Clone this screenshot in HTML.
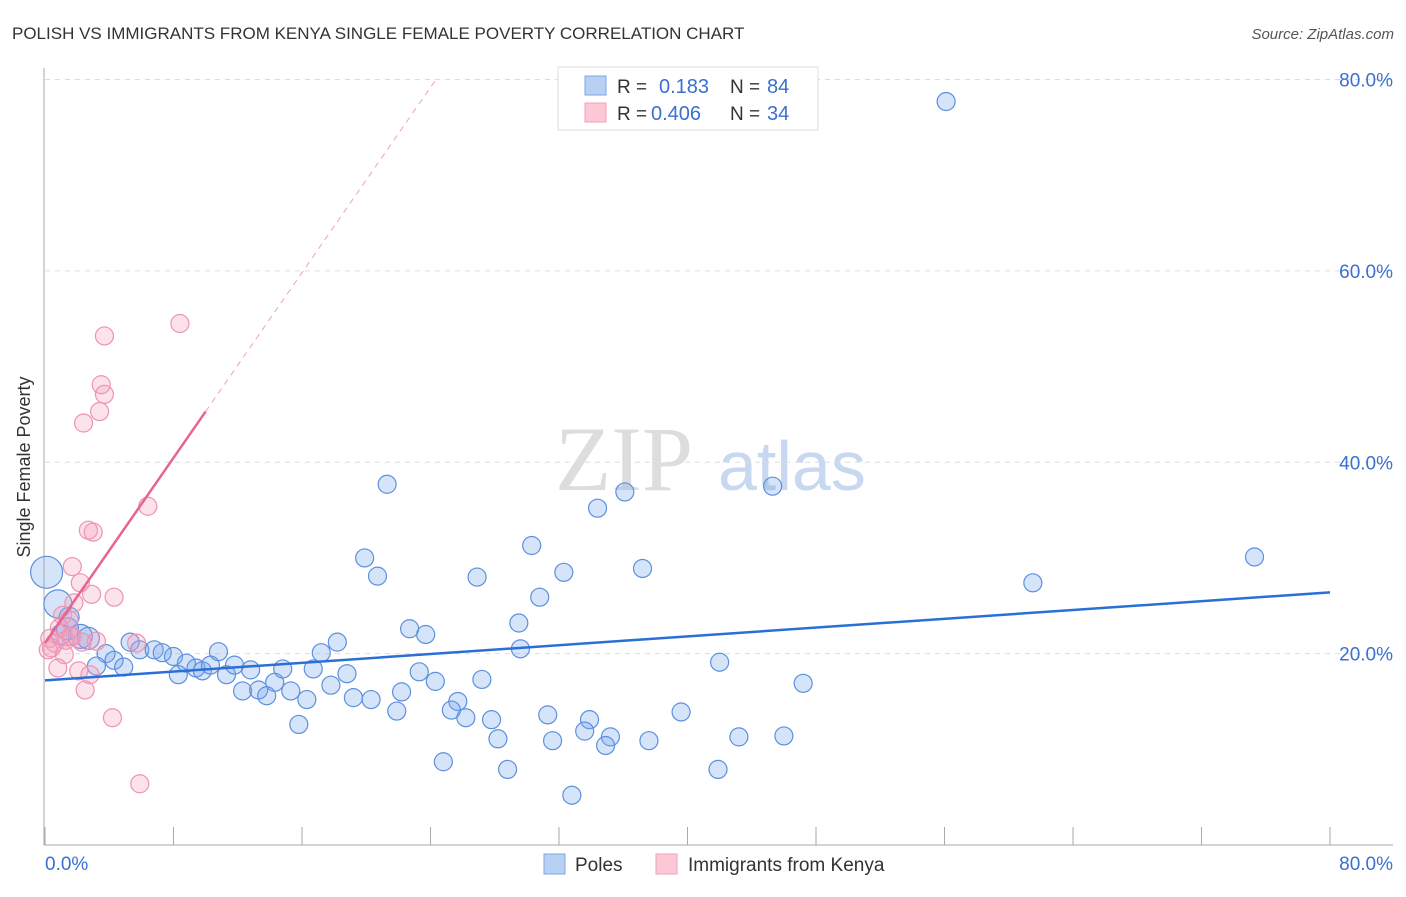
<!DOCTYPE html>
<html><head><meta charset="utf-8"><style>
body{margin:0;background:#fff;font-family:"Liberation Sans",sans-serif;}
</style></head><body>
<svg width="1406" height="892" xmlns="http://www.w3.org/2000/svg">
<text x="12" y="39" font-size="17" fill="#333">POLISH VS IMMIGRANTS FROM KENYA SINGLE FEMALE POVERTY CORRELATION CHART</text>
<text x="1394" y="39" font-size="15" fill="#555" font-style="italic" text-anchor="end">Source: ZipAtlas.com</text>
<g><text x="555" y="490" font-size="92" font-family="Liberation Serif,serif" fill="#ddd">ZIP</text><text x="718" y="490" font-size="70" fill="#c8d8f0">atlas</text></g>
<g id="grid"></g>
<g id="axes"></g>
<g id="marks"></g>
<g id="trend"></g>
<text x="18" y="455" font-size="18" fill="#333" transform="rotate(-90 30 455)" text-anchor="middle">Single Female Poverty</text>
<g>
<rect x="558" y="67" width="260" height="63" fill="#fff" stroke="#ddd"/>
<rect x="585" y="76" width="21" height="19" fill="#b8d0f3" stroke="#7ea6e4"/>
<rect x="585" y="103" width="21" height="19" fill="#fcc8d6" stroke="#f0a0b8"/>
<text x="617" y="93" font-size="19" fill="#333">R = </text><text x="659" y="93" font-size="20" fill="#3a70d0">0.183</text>
<text x="730" y="93" font-size="19" fill="#333">N = </text><text x="767" y="93" font-size="20" fill="#3a70d0">84</text>
<text x="617" y="120" font-size="19" fill="#333">R = </text><text x="651" y="120" font-size="20" fill="#3a70d0">0.406</text>
<text x="730" y="120" font-size="19" fill="#333">N = </text><text x="767" y="120" font-size="20" fill="#3a70d0">34</text>
</g>
<g>
<rect x="544" y="854" width="21" height="20" fill="#b8d0f3" stroke="#7ea6e4"/>
<text x="575" y="871" font-size="19" fill="#333">Poles</text>
<rect x="656" y="854" width="21" height="20" fill="#fcc8d6" stroke="#f0a0b8"/>
<text x="688" y="871" font-size="19" fill="#333">Immigrants from Kenya</text>
</g>
</svg>
<script>
const yTicks=[20,40,60,80];
const yTickLabels=["20.0%","40.0%","60.0%","80.0%"];
const xLabels=["0.0%","80.0%"];
const polesX=[56.1,21.3,36.1,45.3,34.4,30.3,19.9,75.3,20.7,26.9,32.3,37.2,61.5,30.8,29.5,22.7,23.7,29.6,18.2,17.2,42.0,5.3,5.9,6.8,7.3,8.0,10.8,3.8,3.2,4.3,4.9,8.8,9.4,9.8,10.3,8.3,11.3,11.8,12.8,14.8,16.7,18.8,23.3,24.3,27.2,47.2,14.3,17.8,12.3,13.3,13.8,15.3,16.3,19.2,20.3,22.2,21.9,25.7,25.3,26.2,31.3,39.6,15.8,27.8,33.9,33.6,28.2,31.6,35.2,34.9,37.6,43.2,46.0,24.8,28.8,41.9,32.8,0.1,0.8,2.2,1.4,1.5,2.7,1.0];
const polesY=[77.7,37.7,36.9,37.5,35.2,31.3,30.0,30.1,28.1,28.0,28.5,28.9,27.4,25.9,23.2,22.6,22.0,20.5,21.2,20.1,19.1,21.2,20.4,20.4,20.1,19.7,20.2,20.0,18.7,19.3,18.6,19.0,18.5,18.2,18.8,17.8,17.8,18.8,18.3,18.4,18.4,17.9,18.1,17.1,17.3,16.9,17.0,16.7,16.1,16.2,15.6,16.1,15.2,15.4,15.2,16.0,14.0,15.0,14.1,13.3,13.6,13.9,12.6,13.1,13.1,11.9,11.1,10.9,11.3,10.4,10.9,11.3,11.4,8.7,7.9,7.9,5.2,28.5,25.2,21.8,22.6,23.8,21.6,22.0];
const polesR=[9,9,9,9,9,9,9,9,9,9,9,9,9,9,9,9,9,9,9,9,9,9,9,9,9,9,9,9,9,9,9,9,9,9,9,9,9,9,9,9,9,9,9,9,9,9,9,9,9,9,9,9,9,9,9,9,9,9,9,9,9,9,9,9,9,9,9,9,9,9,9,9,9,9,9,9,9,16,14,12,11,10,11,10];
const kenyaX=[8.4,3.7,3.5,3.7,3.4,2.4,6.4,2.7,3.0,1.7,2.2,2.9,4.3,1.8,1.1,1.5,0.9,0.3,0.6,1.3,1.7,3.2,5.7,0.4,1.2,0.8,2.1,2.8,2.5,4.2,5.9,0.2,1.6,2.3];
const kenyaY=[54.5,53.2,48.1,47.1,45.3,44.1,35.4,32.9,32.7,29.1,27.4,26.2,25.9,25.3,24.0,23.5,22.7,21.6,21.1,21.4,21.8,21.3,21.1,20.6,19.9,18.5,18.2,17.8,16.2,13.3,6.4,20.4,21.8,21.2];
const polesTrend=[17.2,26.4];
const kenyaTrend=[21.1,2.42];
const X0=45,X1=1330,Y0=845;
const sx=v=>X0+v*(X1-X0)/80;
const sy=v=>Y0-v*(845-79.5)/80;
const NS="http://www.w3.org/2000/svg";
function mk(tag,attrs,parent){const e=document.createElementNS(NS,tag);for(const k in attrs)e.setAttribute(k,attrs[k]);document.getElementById(parent).appendChild(e);return e;}
yTicks.forEach((t,i)=>{
 const g=mk('line',{x1:45,x2:1393,y1:sy(t),y2:sy(t),stroke:'#ddd','stroke-dasharray':'5,5'},'grid');
 
 
 const l=mk('text',{x:1393,y:sy(t)+7,'font-size':19,fill:'#3a70d0','text-anchor':'end'},'axes');
 l.textContent=yTickLabels[i];
 
 
});
const ax=mk('line',{x1:44,x2:44,y1:68,y2:Y0,stroke:'#aaa'},'axes');


const bx=mk('line',{x1:44,x2:1393,y1:Y0,y2:Y0,stroke:'#aaa'},'axes');


for(let i=0;i<=10;i++){
 const t=mk('line',{x1:sx(i*8),x2:sx(i*8),y1:827,y2:Y0,stroke:'#aaa'},'axes');
 
 
}
const xl0=mk('text',{x:45,y:870,'font-size':19,fill:'#3a70d0'},'axes');xl0.textContent=xLabels[0];


const xl1=mk('text',{x:1393,y:870,'font-size':19,fill:'#3a70d0','text-anchor':'end'},'axes');xl1.textContent=xLabels[1];


polesX.forEach((x,i)=>{
 const c=mk('circle',{cx:sx(x),cy:sy(polesY[i]),r:polesR[i],fill:'rgba(120,165,235,0.3)',stroke:'#5b90de','stroke-width':1.2},'marks');
 
 
});
kenyaX.forEach((x,i)=>{
 const c=mk('circle',{cx:sx(x),cy:sy(kenyaY[i]),r:9,fill:'rgba(245,160,190,0.3)',stroke:'#ef93b0','stroke-width':1.2},'marks');
 
 
});
const pt=mk('line',{x1:sx(0),y1:sy(polesTrend[0]),x2:sx(80),y2:sy(polesTrend[1]),stroke:'#2a6fd6','stroke-width':2.5},'trend');


const kEnd=(80-kenyaTrend[0])/kenyaTrend[1];
const kd=mk('line',{x1:sx(10),y1:sy(kenyaTrend[0]+kenyaTrend[1]*10),x2:sx(kEnd),y2:sy(80),stroke:'#f0a0b8','stroke-width':1,'stroke-dasharray':'6,5'},'trend');


const kt=mk('line',{x1:sx(0),y1:sy(kenyaTrend[0]),x2:sx(10),y2:sy(kenyaTrend[0]+kenyaTrend[1]*10),stroke:'#e8648f','stroke-width':2.5},'trend');


</script>
</body></html>
